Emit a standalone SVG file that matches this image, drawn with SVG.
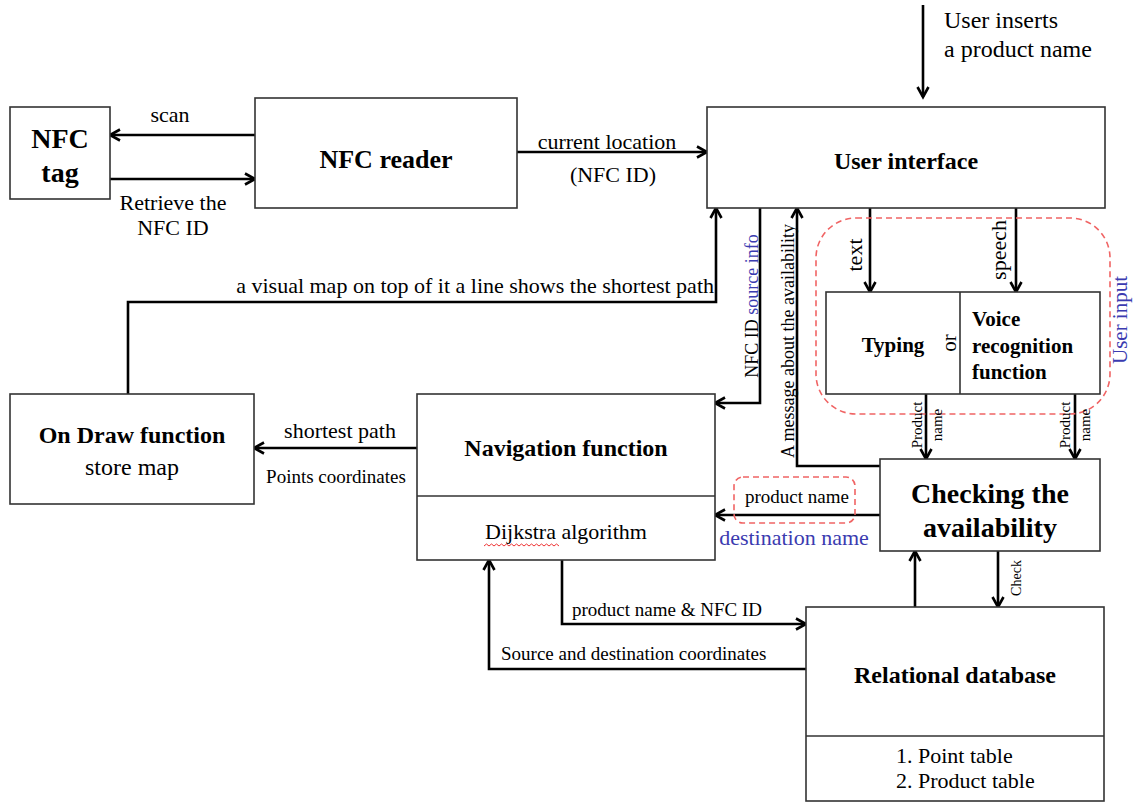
<svg xmlns="http://www.w3.org/2000/svg" width="1133" height="803" viewBox="0 0 1133 803">
<style>
.box{fill:#fff;stroke:#333;stroke-width:1.6}
.div{stroke:#333;stroke-width:1.6;fill:none}
.c{fill:none;stroke:#000;stroke-width:2.6;marker-end:url(#ah)}
text{font-family:"Liberation Serif","Times New Roman",serif;fill:#000}
.t{font-weight:bold;text-anchor:middle}
.m{text-anchor:middle}
.blue{fill:#3b3bb0}
.dash{fill:none;stroke:#f06464;stroke-width:1.6;stroke-dasharray:6,4}
</style>
<defs>
<marker id="ah" markerUnits="userSpaceOnUse" markerWidth="16" markerHeight="16" refX="12" refY="7" orient="auto">
<path d="M2,1.5 L12,7 L2,12.5" fill="none" stroke="#000" stroke-width="2.6" stroke-linejoin="miter"/>
</marker>
</defs>

<g id="connectors">
<path class="c" d="M255,135 L110,135"/>
<path class="c" d="M110,179 L255,179"/>
<path class="c" d="M517,152 L707,152"/>
<path class="c" d="M923,5 L923,97"/>
<path class="c" d="M128,394 L128,302 L716,302 L716,208"/>
<path class="c" d="M760,208 L760,403 L715,403"/>
<path class="c" d="M880,466 L797,466 L797,208"/>
<path class="c" d="M870,208 L870,292"/>
<path class="c" d="M1016,208 L1016,292"/>
<path class="c" d="M926,394 L926,459"/>
<path class="c" d="M1075,394 L1075,459"/>
<path class="c" d="M880,515 L715,515"/>
<path class="c" d="M998,551 L998,607"/>
<path class="c" d="M915,607 L915,551"/>
<path class="c" d="M417,448 L254,448"/>
<path class="c" d="M562,560 L562,624 L806,624"/>
<path class="c" d="M806,669 L489,669 L489,560"/>
</g>

<g id="user-input-group">
<rect class="dash" x="816" y="218" width="294" height="196" rx="40" ry="40"/>
<text class="m blue" font-size="21" transform="translate(1127,320) rotate(-90)">User input</text>
</g>

<g id="nfc-tag">
<rect class="box" x="10" y="107" width="100" height="92"/>
<text class="t" font-size="28" x="60" y="148">NFC</text>
<text class="t" font-size="28" x="60" y="182">tag</text>
</g>

<g id="nfc-reader">
<rect class="box" x="255" y="98" width="262" height="110"/>
<text class="t" font-size="26" x="386" y="168">NFC reader</text>
</g>

<g id="user-interface">
<rect class="box" x="707" y="107" width="398" height="101"/>
<text class="t" font-size="24" x="906" y="169">User interface</text>
</g>

<g id="typing-voice">
<rect class="box" x="826" y="292" width="274" height="102"/>
<line class="div" x1="960" y1="292" x2="960" y2="394"/>
<text class="t" font-size="21" x="893" y="352">Typing</text>
<text class="m" font-size="21" transform="translate(956,343) rotate(-90)">or</text>
<text font-weight="bold" font-size="21" x="972" y="326">Voice</text>
<text font-weight="bold" font-size="21" x="972" y="353">recognition</text>
<text font-weight="bold" font-size="21" x="972" y="379">function</text>
</g>

<g id="checking">
<rect class="box" x="880" y="459" width="220" height="92"/>
<text class="t" font-size="28" x="990" y="503">Checking the</text>
<text class="t" font-size="28" x="990" y="537">availability</text>
</g>

<g id="navigation">
<rect class="box" x="417" y="394" width="298" height="166"/>
<line class="div" x1="417" y1="496" x2="715" y2="496"/>
<text class="t" font-size="24" x="566" y="456">Navigation function</text>
<text class="m" font-size="22" x="566" y="539">Dijkstra algorithm</text>
<path d="M484,546 l2.5,-2 l2.5,2 l2.5,-2 l2.5,2 l2.5,-2 l2.5,2 l2.5,-2 l2.5,2 l2.5,-2 l2.5,2 l2.5,-2 l2.5,2 l2.5,-2 l2.5,2 l2.5,-2 l2.5,2 l2.5,-2 l2.5,2 l2.5,-2 l2.5,2 l2.5,-2 l2.5,2 l2.5,-2 l2.5,2 l2.5,-2 l2.5,2 l2.5,-2 l2.5,2 l2.5,-2 l2.5,2" fill="none" stroke="#e33" stroke-width="1"/>
</g>

<g id="on-draw">
<rect class="box" x="10" y="394" width="244" height="110"/>
<text class="t" font-size="24" x="132" y="443">On Draw function</text>
<text class="m" font-size="24" x="132" y="475">store map</text>
</g>

<g id="relational-database">
<rect class="box" x="806" y="607" width="298" height="194"/>
<line class="div" x1="806" y1="736" x2="1104" y2="736"/>
<text class="t" font-size="24" x="955" y="683">Relational database</text>
<text font-size="22" x="896" y="763">1. Point table</text>
<text font-size="22" x="896" y="788">2. Product table</text>
</g>

<g id="labels">
<text class="m" font-size="22" x="170" y="122">scan</text>
<text class="m" font-size="22" x="173" y="210">Retrieve the</text>
<text class="m" font-size="22" x="173" y="235">NFC ID</text>
<text class="m" font-size="22" x="607" y="149">current location</text>
<text class="m" font-size="22" x="613" y="182">(NFC ID)</text>
<text font-size="24" x="944" y="28">User inserts</text>
<text font-size="24" x="944" y="57">a product name</text>
<text font-size="22" x="714" y="293" text-anchor="end">a visual map on top of it a line shows the shortest path</text>
<text class="m" font-size="18" transform="translate(758,306) rotate(-90)">NFC ID <tspan class="blue">source info</tspan></text>
<text class="m" font-size="18" transform="translate(794,341) rotate(-90)">A message about the availability</text>
<text class="m" font-size="22" transform="translate(862,255) rotate(-90)">text</text>
<text class="m" font-size="22" transform="translate(1006,250) rotate(-90)">speech</text>
<text class="m" font-size="15" transform="translate(922,425) rotate(-90)">Product</text>
<text class="m" font-size="15" transform="translate(942,425) rotate(-90)">name</text>
<text class="m" font-size="15" transform="translate(1070,425) rotate(-90)">Product</text>
<text class="m" font-size="15" transform="translate(1090,425) rotate(-90)">name</text>
<text class="m" font-size="14" transform="translate(1021,578) rotate(-90)">Check</text>
<rect class="dash" x="734" y="477" width="121" height="46" rx="9" ry="9"/>
<text class="m" font-size="19" x="797" y="503">product name</text>
<text class="m blue" font-size="22" x="794" y="545">destination name</text>
<text class="m" font-size="22" x="340" y="438">shortest path</text>
<text class="m" font-size="19" x="336" y="483">Points coordinates</text>
<text font-size="19" x="572" y="616">product name &amp; NFC ID</text>
<text font-size="19" x="501" y="660">Source and destination coordinates</text>
</g>
</svg>
